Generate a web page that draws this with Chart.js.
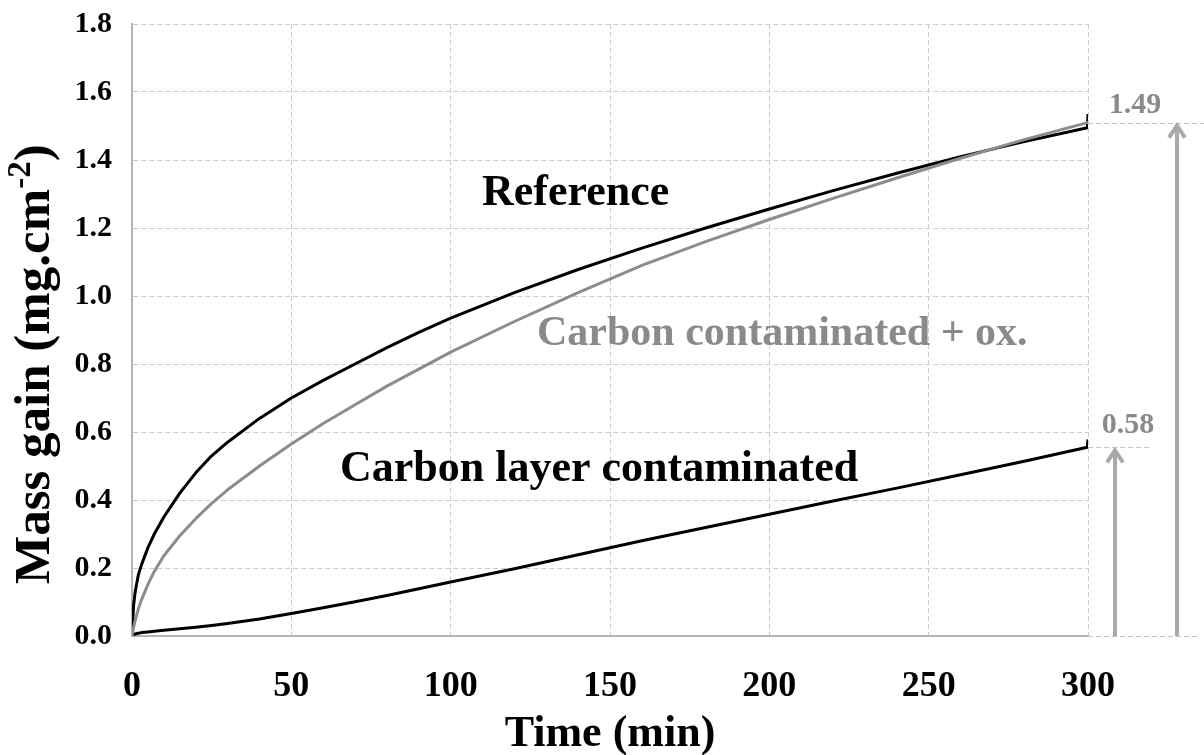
<!DOCTYPE html>
<html>
<head>
<meta charset="utf-8">
<title>Mass gain vs time</title>
<script src="https://cdn.jsdelivr.net/npm/chart.js@4.4.0/dist/chart.umd.min.js"></script>
<style>
  html, body { margin: 0; padding: 0; background: #fff; }
  #wrap { width: 1204px; height: 755px; }
</style>
</head>
<body>
<div id="wrap"><canvas id="massChart" width="1204" height="755"></canvas></div>
<script>
/* ── data ───────────────────────────────────────────────── */
const times = [0, 0.5, 1, 2, 3, 5, 7, 10, 15, 20, 25, 30, 40, 50, 60, 70, 80, 90,
               100, 120, 140, 160, 180, 200, 220, 240, 260, 280, 299.8, 300];

const referenceGain = [0, 0.09, 0.13, 0.18, 0.21, 0.26, 0.30, 0.35, 0.42, 0.48, 0.53, 0.57,
                       0.64, 0.70, 0.752, 0.80, 0.848, 0.893, 0.935, 1.01, 1.078, 1.141, 1.20,
                       1.256, 1.31, 1.361, 1.41, 1.454, 1.495, 1.535];

const oxidisedGain  = [0, 0.025, 0.045, 0.08, 0.107, 0.152, 0.19, 0.236, 0.295, 0.345, 0.39, 0.43,
                       0.50, 0.565, 0.625, 0.68, 0.735, 0.785, 0.835, 0.925, 1.01, 1.09, 1.16,
                       1.225, 1.287, 1.347, 1.405, 1.46, 1.51, 1.51];

const carbonLayerGain = [0, 0.004, 0.006, 0.008, 0.01, 0.012, 0.014, 0.017, 0.021, 0.026, 0.031, 0.037,
                         0.05, 0.066, 0.083, 0.101, 0.119, 0.139, 0.159, 0.198, 0.239, 0.28, 0.319,
                         0.358, 0.397, 0.435, 0.474, 0.514, 0.555, 0.578];

const xTicks = [0, 50, 100, 150, 200, 250, 300];
const yTicks = [0, 0.2, 0.4, 0.6, 0.8, 1.0, 1.2, 1.4, 1.6, 1.8];

// end levels marked by the arrows on the right, with their printed values
const endLevels = [0.555, 1.51];
const endLabels = ['0.58', '1.49'];

/* ── style ──────────────────────────────────────────────── */
const SERIF   = "'Liberation Serif', 'Times New Roman', serif";
const GRID    = '#cccccc';
const AXIS    = '#b4b4b4';
const GREY    = '#8a8a8a';
const ARROW   = '#a9a9a9';

const toPoints = vals => times.map((t, i) => ({ x: t, y: vals[i] }));

/* ── annotations: curve names, end arrows, axis titles ─── */
const annotations = {
    id: 'annotations',
    afterDraw(chart) {
        const { ctx, chartArea: a, scales: { y } } = chart;
        ctx.save();

        // dashed extensions to the right of the plot
        ctx.strokeStyle = '#c4c4c4';
        ctx.lineWidth = 1.2;
        ctx.setLineDash([5, 3]);
        const ext = [[0, 109], [endLevels[0], 62], [endLevels[1], 116]];
        ext.forEach(([v, len]) => {
            const py = Math.round(y.getPixelForValue(v)) + 0.5;
            ctx.beginPath();
            ctx.moveTo(a.right, py);
            ctx.lineTo(a.right + len, py);
            ctx.stroke();
        });
        ctx.setLineDash([]);

        // arrows
        ctx.strokeStyle = ARROW;
        ctx.lineWidth = 4;
        const arrowX = [a.right + 27, a.right + 89];
        endLevels.forEach((v, i) => {
            const ax = arrowX[i];
            const tip = y.getPixelForValue(v) + 2;
            ctx.beginPath();
            ctx.moveTo(ax, y.getPixelForValue(0));
            ctx.lineTo(ax, tip + 1);
            ctx.stroke();
            ctx.beginPath();
            ctx.moveTo(ax - 8, tip + 13);
            ctx.lineTo(ax, tip + 1);
            ctx.lineTo(ax + 8, tip + 13);
            ctx.stroke();
        });

        // end values
        ctx.fillStyle = GREY;
        ctx.font = `bold 30px ${SERIF}`;
        ctx.textAlign = 'center';
        ctx.textBaseline = 'alphabetic';
        ctx.fillText(endLabels[0], a.right + 40, 433);
        ctx.fillText(endLabels[1], a.right + 47, 113);

        // curve names
        ctx.textAlign = 'left';
        ctx.font = `bold 44px ${SERIF}`;
        ctx.fillStyle = '#000';
        ctx.fillText('Reference', 482, 205);
        ctx.fillText('Carbon layer contaminated', 340, 481);
        ctx.fillStyle = GREY;
        ctx.font = `bold 42px ${SERIF}`;
        ctx.fillText('Carbon contaminated + ox.', 537, 345);

        // x title
        ctx.fillStyle = '#000';
        ctx.font = `bold 44px ${SERIF}`;
        ctx.textAlign = 'center';
        ctx.fillText('Time (min)', 610, 746);

        // y title with superscript
        ctx.translate(49, 584);
        ctx.rotate(-Math.PI / 2);
        ctx.textAlign = 'left';
        ctx.font = `bold 51px ${SERIF}`;
        const main = 'Mass gain (mg.cm';
        ctx.fillText(main, 0, 0);
        let w = ctx.measureText(main).width;
        ctx.font = `bold 33px ${SERIF}`;
        ctx.fillText('-2', w, -19);
        w += ctx.measureText('-2').width;
        ctx.font = `bold 51px ${SERIF}`;
        ctx.fillText(')', w, 0);

        ctx.restore();
    }
};

new Chart(document.getElementById('massChart'), {
    type: 'line',
    data: {
        datasets: [
            {
                label: 'Carbon contaminated + ox.',
                data: toPoints(oxidisedGain),
                borderColor: '#8c8c8c',
                borderWidth: 3,
                order: 0,
            },
            {
                label: 'Reference',
                data: toPoints(referenceGain),
                borderColor: '#000',
                borderWidth: 3,
                order: 1,
            },
            {
                label: 'Carbon layer contaminated',
                data: toPoints(carbonLayerGain),
                borderColor: '#000',
                borderWidth: 3,
                order: 2,
            },
        ],
    },
    options: {
        responsive: false,
        animation: false,
        events: [],
        layout: { padding: { left: 0, top: 24, right: 116, bottom: 0 } },
        elements: {
            point: { radius: 0 },
            line: { tension: 0, fill: false, borderJoinStyle: 'round' },
        },
        plugins: {
            legend: { display: false },
            tooltip: { enabled: false },
        },
        scales: {
            x: {
                type: 'linear',
                min: 0, max: 300,
                afterBuildTicks: s => { s.ticks = xTicks.map(v => ({ value: v })); },
                afterFit: s => { s.height = 119; s.paddingLeft = 0; s.paddingRight = 0; },
                grid: { color: GRID, lineWidth: 1, drawTicks: false },
                border: { display: true, color: AXIS, width: 2, dash: [5, 3] },
                ticks: {
                    color: '#000',
                    padding: 29,
                    maxRotation: 0,
                    font: { family: SERIF, size: 36, weight: 'bold' },
                },
            },
            y: {
                type: 'linear',
                min: 0, max: 1.8,
                afterBuildTicks: s => { s.ticks = yTicks.map(v => ({ value: v })); },
                afterFit: s => { s.width = 132; s.paddingTop = 0; s.paddingBottom = 0; },
                grid: { color: GRID, lineWidth: 1, drawTicks: false },
                border: { display: true, color: AXIS, width: 2, dash: [5, 3] },
                ticks: {
                    color: '#000',
                    padding: 20,
                    callback: v => Number(v).toFixed(1),
                    font: { family: SERIF, size: 30, weight: 'bold' },
                },
            },
        },
    },
    plugins: [annotations],
});
</script>
</body>
</html>
